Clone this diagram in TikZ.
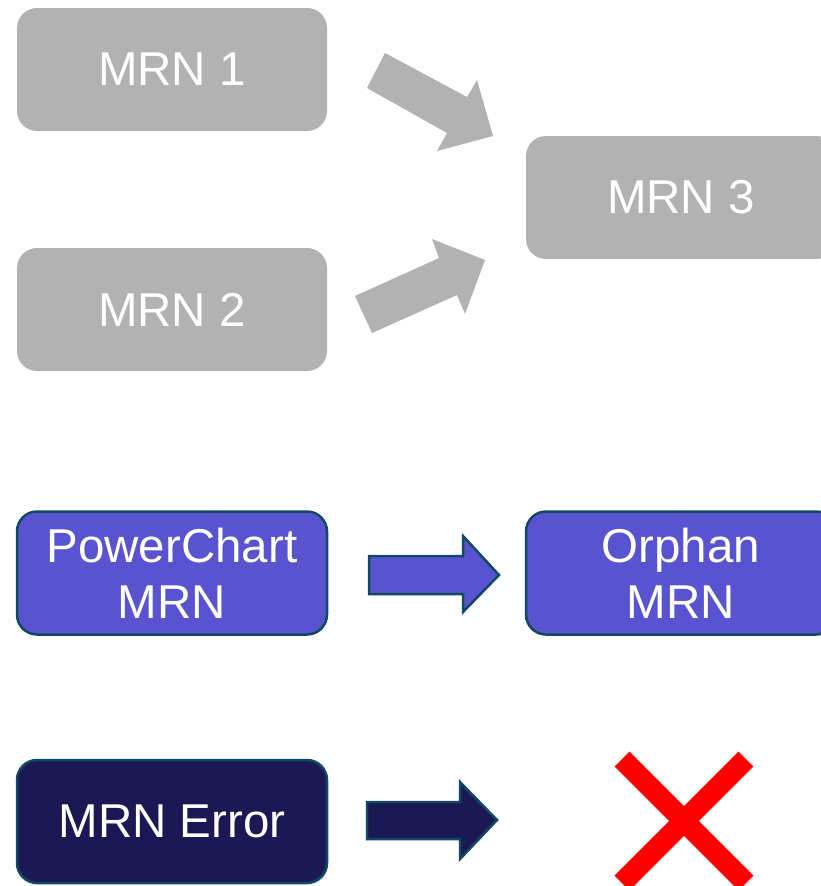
\documentclass[tikz,border=0pt]{standalone}
\usepackage{fontspec}
\setmainfont{Liberation Sans}
\definecolor{mrngrey}{RGB}{178,178,178}
\definecolor{mrnblue}{RGB}{89,83,207}
\definecolor{mrnnavy}{RGB}{27,24,84}
\definecolor{mrnedge}{RGB}{18,72,98}
\begin{document}
\begin{tikzpicture}[x=1pt,y=-1pt,
  mrn/.style={rounded corners=20pt, minimum width=310pt, minimum height=123pt,
    inner sep=0pt, align=center, text=white, font=\fontsize{47.5}{56}\selectfont},
  greymrn/.style={mrn, fill=mrngrey},
  bluemrn/.style={mrn, fill=mrnblue, draw=mrnedge, line width=2.5pt},
  navymrn/.style={mrn, fill=mrnnavy, draw=mrnedge, line width=2.5pt},
  blockarrow/.style={draw=mrnedge, line width=2.5pt, line join=miter}]
\useasboundingbox (0,0) rectangle (821,886);
% nodes
\node [greymrn] (mrn1) at (172,69.5) {MRN 1};
\node [greymrn] (mrn2) at (172,309.5) {MRN 2};
\node [greymrn] (mrn3) at (681,197.5) {MRN 3};

\node [bluemrn] (pcmrn) at (172,573) {PowerChart\\MRN};
\node [bluemrn] (orphan) at (681,573) {Orphan\\MRN};

\node [navymrn] (mrnerr) at (172,821.5) {MRN Error};

% arrows
\fill [mrngrey] (385,53) -- (467,97) -- (477,80) -- (493,136) -- (437,151) -- (447,133) -- (367,88) -- cycle;
\fill [mrngrey] (355,296) -- (439,258) -- (432,239) -- (485,260) -- (465,314) -- (457,295) -- (372,333) -- cycle;

\filldraw [blockarrow, fill=mrnblue] (369,556) -- (463,556) -- (463,536) -- (499,575) -- (463,612) -- (463,594) -- (369,594) -- cycle;
\filldraw [blockarrow, fill=mrnnavy] (367,802) -- (460,802) -- (460,782) -- (497,820) -- (460,859) -- (460,839) -- (367,839) -- cycle;

% cross
\draw [red, line width=21pt] (622,759) -- (746,883);
\draw [red, line width=21pt] (746,759) -- (622,883);

\end{tikzpicture}
\end{document}
